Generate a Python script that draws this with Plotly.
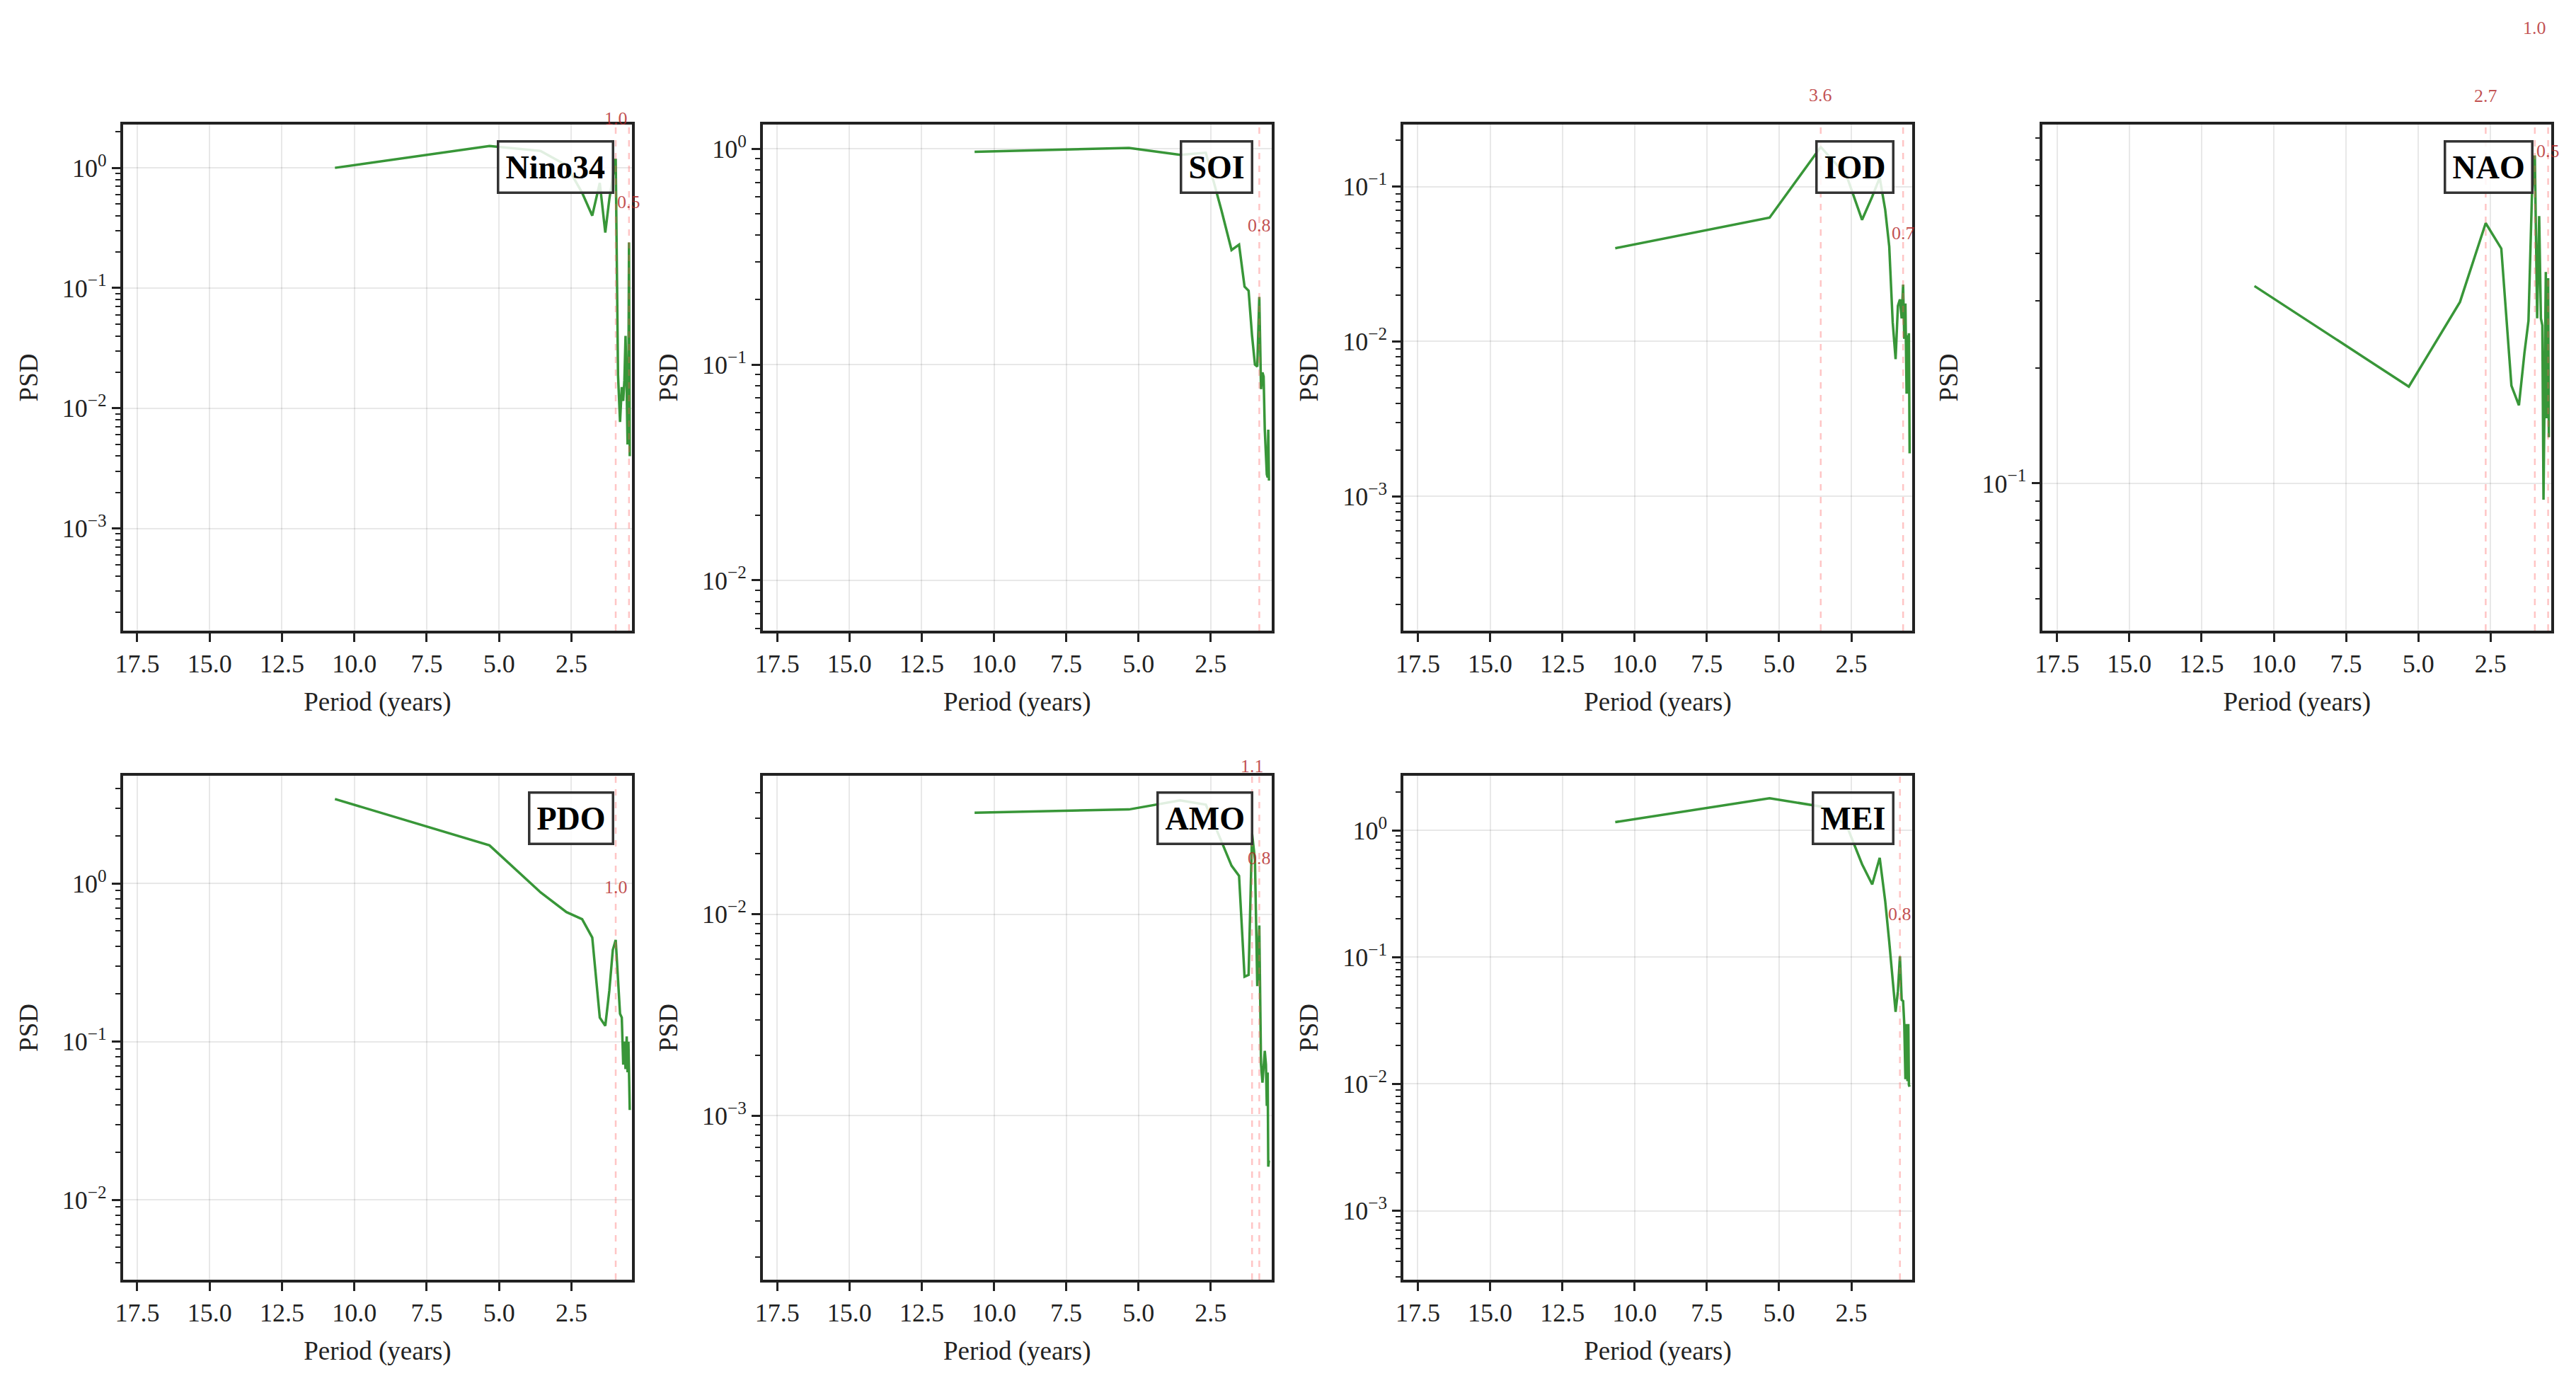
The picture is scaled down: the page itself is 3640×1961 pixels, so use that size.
import math
import plotly.graph_objects as go

# ---------------- data ----------------
periods = [10.67, 5.33, 3.56, 2.67, 2.13, 1.78, 1.52, 1.33, 1.19, 1.07, 0.97,
           0.89, 0.82, 0.76, 0.71, 0.67, 0.63, 0.59, 0.56, 0.53, 0.51, 0.485]

index_names = ["Nino34", "SOI", "IOD", "NAO", "PDO", "AMO", "MEI"]

psd_nino34 = [1.0, 1.52, 1.38, 1.05, 0.62, 0.40, 0.75, 0.29, 0.55, 0.85, 1.19,
              0.019, 0.0077, 0.015, 0.0115, 0.017, 0.04, 0.014, 0.005, 0.02, 0.24, 0.004]
psd_soi = [0.97, 1.01, 0.94, 0.96, 0.52, 0.34, 0.36, 0.23, 0.22, 0.136, 0.10,
           0.098, 0.206, 0.077, 0.092, 0.088, 0.05, 0.037, 0.031, 0.030, 0.05, 0.029]
psd_iod = [0.040, 0.063, 0.18, 0.118, 0.061, 0.086, 0.114, 0.071, 0.041, 0.0133, 0.0077,
           0.017, 0.0187, 0.0141, 0.0233, 0.0104, 0.0176, 0.0046, 0.011, 0.0046, 0.0113, 0.0019]
psd_nao = [0.328, 0.179, 0.298, 0.479, 0.411, 0.18, 0.16, 0.219, 0.266, 0.566, 0.72,
           0.27, 0.50, 0.27, 0.259, 0.0906, 0.18, 0.357, 0.148, 0.20, 0.344, 0.132]
psd_pdo = [3.42, 1.74, 0.877, 0.659, 0.595, 0.455, 0.142, 0.126, 0.21, 0.38, 0.44,
           0.266, 0.15, 0.142, 0.0716, 0.10, 0.067, 0.108, 0.064, 0.10, 0.056, 0.037]
psd_amo = [0.0319, 0.0331, 0.0367, 0.035, 0.023, 0.0174, 0.0155, 0.0049, 0.0050, 0.0252, 0.0186,
           0.0044, 0.0088, 0.0018, 0.00146, 0.0017, 0.0021, 0.0018, 0.00112, 0.00164, 0.00056, 0.0006]
psd_mei = [1.16, 1.79, 1.54, 1.10, 0.54, 0.374, 0.607, 0.277, 0.132, 0.067, 0.037,
           0.054, 0.1014, 0.046, 0.045, 0.0297, 0.0109, 0.0297, 0.0105, 0.0297, 0.0098, 0.0095]

psd_by_index = {"Nino34": psd_nino34, "SOI": psd_soi, "IOD": psd_iod, "NAO": psd_nao,
                "PDO": psd_pdo, "AMO": psd_amo, "MEI": psd_mei}

# indices (into periods) of the detected spectral peaks
peaks_nino34 = [10, 20]
peaks_soi = [12]
peaks_iod = [2, 14]
peaks_nao = [3, 10, 20]
peaks_pdo = [10]
peaks_amo = [9, 12]
peaks_mei = [12]
peaks_by_index = {"Nino34": peaks_nino34, "SOI": peaks_soi, "IOD": peaks_iod, "NAO": peaks_nao,
                  "PDO": peaks_pdo, "AMO": peaks_amo, "MEI": peaks_mei}

# log10 y-axis ranges
yrange_by_index = {"Nino34": [-3.85, 0.36], "SOI": [-2.233, 0.113], "IOD": [-3.866, -0.60],
                   "NAO": [-1.385, -0.062], "PDO": [-2.505, 0.681], "AMO": [-3.813, -1.313],
                   "MEI": [-3.544, 0.43]}

x_ticks = [17.5, 15.0, 12.5, 10.0, 7.5, 5.0, 2.5]
x_range = [18.0, 0.40]

# ---------------- layout ----------------
W, H = 3640, 1961
col_px = [(163, 885), (1070, 1791), (1978, 2699), (2884, 3605)]
row_px = [(176, 891), (1096, 1808)]

FONT = "Liberation Serif"
GREEN = "rgba(34,139,34,0.9)"
PEAK_LINE = "rgba(255,90,90,0.35)"
PEAK_TXT = "rgba(178,34,34,0.8)"
AXC = "#222222"
GRID = "rgba(0,0,0,0.09)"

fig = go.Figure()
annotations = []
shapes = []

def sup(e):
    return "10<sup>%s</sup>" % (str(e) if e >= 0 else "\u2212" + str(-e))

for i, name in enumerate(index_names):
    r, c = divmod(i, 4)
    sfx = "" if i == 0 else str(i + 1)
    xd = [col_px[c][0] / W, col_px[c][1] / W]
    yd = [1 - row_px[r][1] / H, 1 - row_px[r][0] / H]
    r0, r1 = yrange_by_index[name]
    psd = psd_by_index[name]

    fig.add_trace(go.Scatter(x=periods, y=psd, mode="lines",
                             line=dict(color=GREEN, width=3.5),
                             xaxis="x" + sfx, yaxis="y" + sfx,
                             showlegend=False, hoverinfo="skip"))

    decades = list(range(math.ceil(r0), math.floor(r1) + 1))
    minor_vals = []
    for e in range(math.floor(r0) - 1, math.ceil(r1) + 1):
        for m in range(2, 10):
            v = m * 10 ** e
            if r0 <= math.log10(v) <= r1:
                minor_vals.append(v)

    fig.layout["xaxis" + sfx] = dict(
        domain=xd, anchor="y" + sfx, range=x_range,
        tickmode="array", tickvals=x_ticks, ticktext=["%.1f" % t for t in x_ticks],
        ticks="outside", ticklen=12, tickwidth=2.5, tickcolor=AXC,
        showline=True, linecolor=AXC, linewidth=3.5, mirror=True,
        showgrid=True, gridcolor=GRID, gridwidth=2, zeroline=False,
        tickfont=dict(family=FONT, size=36, color=AXC),
        title=dict(text="Period (years)", font=dict(family=FONT, size=37, color=AXC), standoff=22),
    )
    fig.layout["yaxis" + sfx] = dict(
        domain=yd, anchor="x" + sfx, type="log", range=[r0, r1],
        tickmode="array", tickvals=[10 ** e for e in decades], ticktext=[sup(e) for e in decades],
        ticks="outside", ticklen=12, tickwidth=2.5, tickcolor=AXC,
        minor=dict(tickmode="array", tickvals=minor_vals, ticks="outside", ticklen=7,
                   tickwidth=2, tickcolor=AXC, showgrid=False),
        showline=True, linecolor=AXC, linewidth=3.5, mirror=True,
        showgrid=True, gridcolor=GRID, gridwidth=2, zeroline=False,
        tickfont=dict(family=FONT, size=36, color=AXC),
        title=dict(text="PSD", font=dict(family=FONT, size=37, color=AXC), standoff=24),
    )

    # name box
    annotations.append(dict(
        xref="x%s domain" % sfx, yref="y%s domain" % sfx, x=0.965, y=0.969,
        xanchor="right", yanchor="top", showarrow=False,
        text="<b>%s</b>" % name, font=dict(family=FONT, size=46, color="black"),
        bgcolor="rgba(255,255,255,0.85)", bordercolor="#333333", borderwidth=3.5, borderpad=9,
    ))

    # peaks
    for k in peaks_by_index[name]:
        p = periods[k]
        shapes.append(dict(type="line", xref="x" + sfx, yref="y%s domain" % sfx,
                           x0=p, x1=p, y0=0, y1=1,
                           line=dict(color=PEAK_LINE, width=2.5, dash="dash")))
        lv = math.log10(psd[k] * 2.15)
        frac = (lv - r0) / (r1 - r0)
        ypaper = yd[0] + frac * (yd[1] - yd[0])
        annotations.append(dict(
            xref="x" + sfx, yref="paper", x=p, y=ypaper,
            xanchor="center", yanchor="middle", showarrow=False,
            text="%.1f" % p, font=dict(family=FONT, size=26, color=PEAK_TXT),
        ))

fig.update_layout(
    width=W, height=H, autosize=False,
    margin=dict(l=0, r=0, t=0, b=0),
    paper_bgcolor="white", plot_bgcolor="white",
    annotations=annotations, shapes=shapes,
    font=dict(family=FONT, color=AXC),
)

fig.write_html("out.html")
